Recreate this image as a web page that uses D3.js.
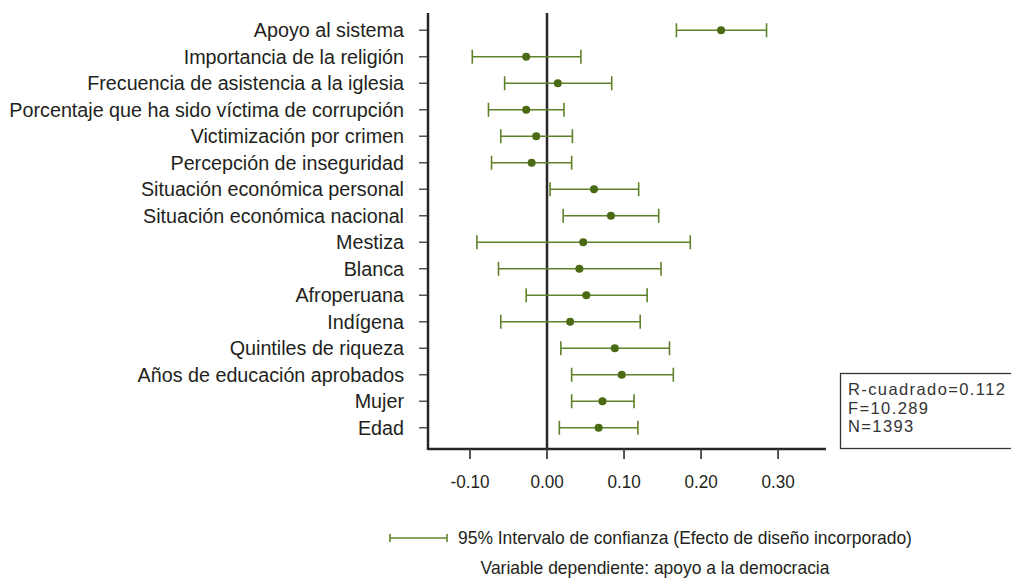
<!DOCTYPE html>
<html>
<head>
<meta charset="utf-8">
<script src="https://cdn.jsdelivr.net/npm/d3@7"></script>
<style>
  body { margin: 0; background: #fff; }
  svg { display: block; font-family: "Liberation Sans", Arial, sans-serif; }
</style>
</head>
<body>
<svg id="chart" width="1011" height="579"></svg>
<script>
// Coeficientes y sus intervalos de confianza
const variables = [
  'Apoyo al sistema',
  'Importancia de la religión',
  'Frecuencia de asistencia a la iglesia',
  'Porcentaje que ha sido víctima de corrupción',
  'Victimización por crimen',
  'Percepción de inseguridad',
  'Situación económica personal',
  'Situación económica nacional',
  'Mestiza',
  'Blanca',
  'Afroperuana',
  'Indígena',
  'Quintiles de riqueza',
  'Años de educación aprobados',
  'Mujer',
  'Edad'
];
const coef = [0.226, -0.027, 0.014, -0.027, -0.014, -0.020, 0.061, 0.083, 0.047, 0.042, 0.051, 0.030, 0.088, 0.097, 0.072, 0.067];
const lower = [0.168, -0.097, -0.055, -0.076, -0.060, -0.072, 0.004, 0.021, -0.091, -0.063, -0.027, -0.060, 0.018, 0.032, 0.032, 0.016];
const upper = [0.285, 0.044, 0.084, 0.022, 0.033, 0.032, 0.119, 0.145, 0.186, 0.148, 0.130, 0.121, 0.159, 0.164, 0.113, 0.118];
const xTicks = [-0.10, 0.00, 0.10, 0.20, 0.30];
const stats = ['R-cuadrado=0.112', 'F=10.289', 'N=1393'];
const legendText = '95% Intervalo de confianza (Efecto de diseño incorporado)';
const noteText = 'Variable dependiente: apoyo a la democracia';

const rows = variables.map((name, i) => ({ name, coef: coef[i], lo: lower[i], hi: upper[i] }));

const svg = d3.select('#chart');
const margin = { top: 13, left: 428, right: 826, bottom: 449 };
const lineColor = '#5f8229';
const dotColor = '#4a6a14';
const axisColor = '#2a2627';

const x = d3.scaleLinear().domain([-0.1545, 0.3622]).range([margin.left, margin.right]);
const y = d3.scalePoint().domain(variables).range([17, 441]).padding(0.5);

// texto algo condensado, como en el original
function condensed(sel, sx) {
  sel.each(function () {
    const t = d3.select(this);
    const tx = +t.attr('data-x');
    const ty = +t.attr('data-y');
    t.attr('transform', `translate(${tx},${ty}) scale(${sx},1)`);
  });
}

// etiquetas del eje y
svg.append('g')
  .selectAll('line')
  .data(variables)
  .join('line')
  .attr('x1', margin.left - 9)
  .attr('x2', margin.left)
  .attr('y1', (d) => y(d))
  .attr('y2', (d) => y(d))
  .attr('stroke', '#555')
  .attr('stroke-width', 1.5);

svg.append('g')
  .selectAll('text')
  .data(variables)
  .join('text')
  .attr('data-x', 404)
  .attr('data-y', (d) => y(d) + 7)
  .attr('text-anchor', 'end')
  .attr('font-size', 21)
  .attr('fill', '#231f20')
  .text((d) => d)
  .call(condensed, 0.94);

// eje x
svg.append('line')
  .attr('x1', margin.left).attr('x2', margin.right)
  .attr('y1', margin.bottom).attr('y2', margin.bottom)
  .attr('stroke', axisColor).attr('stroke-width', 2.5);

svg.append('g')
  .selectAll('line')
  .data(xTicks)
  .join('line')
  .attr('x1', (d) => x(d)).attr('x2', (d) => x(d))
  .attr('y1', margin.bottom).attr('y2', margin.bottom + 10)
  .attr('stroke', '#444').attr('stroke-width', 1.8);

svg.append('g')
  .selectAll('text')
  .data(xTicks)
  .join('text')
  .attr('data-x', (d) => x(d))
  .attr('data-y', 488)
  .attr('text-anchor', 'middle')
  .attr('font-size', 19)
  .attr('fill', '#231f20')
  .text((d) => d.toFixed(2))
  .call(condensed, 0.9);

// eje y y línea del cero
svg.append('line')
  .attr('x1', margin.left).attr('x2', margin.left)
  .attr('y1', margin.top).attr('y2', margin.bottom + 1)
  .attr('stroke', axisColor).attr('stroke-width', 2.5);
svg.append('line')
  .attr('x1', x(0)).attr('x2', x(0))
  .attr('y1', margin.top).attr('y2', margin.bottom)
  .attr('stroke', axisColor).attr('stroke-width', 2.5);

// intervalos
const bars = svg.append('g')
  .selectAll('g')
  .data(rows)
  .join('g')
  .attr('transform', (d) => `translate(0,${y(d.name)})`);

bars.append('line')
  .attr('x1', (d) => x(d.lo)).attr('x2', (d) => x(d.hi))
  .attr('stroke', lineColor).attr('stroke-width', 1.6);
bars.append('line')
  .attr('x1', (d) => x(d.lo)).attr('x2', (d) => x(d.lo))
  .attr('y1', -7).attr('y2', 7)
  .attr('stroke', lineColor).attr('stroke-width', 1.6);
bars.append('line')
  .attr('x1', (d) => x(d.hi)).attr('x2', (d) => x(d.hi))
  .attr('y1', -7).attr('y2', 7)
  .attr('stroke', lineColor).attr('stroke-width', 1.6);
bars.append('circle')
  .attr('cx', (d) => x(d.coef))
  .attr('r', 4)
  .attr('fill', dotColor);

// recuadro de estadísticos
svg.append('rect')
  .attr('x', 840.5).attr('y', 373.5)
  .attr('width', 200).attr('height', 75)
  .attr('fill', '#fff').attr('stroke', '#333').attr('stroke-width', 1.3);

svg.append('g')
  .selectAll('text')
  .data(stats)
  .join('text')
  .attr('x', 848)
  .attr('y', (d, i) => 395 + i * 18.5)
  .attr('font-size', 16.5)
  .attr('letter-spacing', 1.4)
  .attr('fill', '#333')
  .text((d) => d);

// leyenda
const lg = svg.append('g').attr('transform', 'translate(0,538)');
lg.append('line').attr('x1', 390).attr('x2', 447).attr('stroke', lineColor).attr('stroke-width', 1.6);
lg.append('line').attr('x1', 390).attr('x2', 390).attr('y1', -4).attr('y2', 4).attr('stroke', lineColor).attr('stroke-width', 1.6);
lg.append('line').attr('x1', 447).attr('x2', 447).attr('y1', -4).attr('y2', 4).attr('stroke', lineColor).attr('stroke-width', 1.6);

svg.append('text')
  .attr('data-x', 458).attr('data-y', 544)
  .attr('font-size', 18)
  .attr('fill', '#231f20')
  .text(legendText)
  .call(condensed, 0.97);

svg.append('text')
  .attr('data-x', 655).attr('data-y', 574)
  .attr('text-anchor', 'middle')
  .attr('font-size', 18)
  .attr('fill', '#231f20')
  .text(noteText)
  .call(condensed, 0.97);
</script>
</body>
</html>
